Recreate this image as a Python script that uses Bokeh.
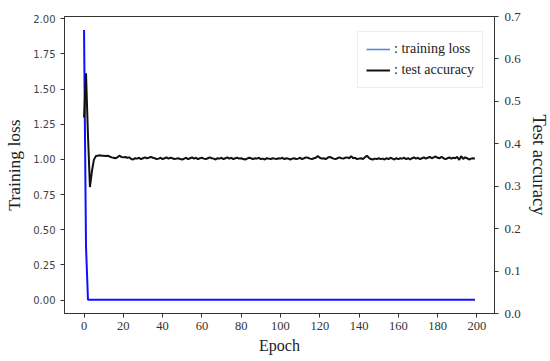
from bokeh.plotting import figure
from bokeh.models import Range1d, LinearAxis, FixedTicker, Legend, LegendItem, NumeralTickFormatter, ColumnDataSource
from bokeh.embed import file_html
from bokeh.resources import INLINE

epochs = list(range(200))

training_loss = [
    1.92, 0.38, 0.002, 0.001, 0.001, 0.001, 0.001, 0.001, 0.001, 0.001,
    0.001, 0.001, 0.001, 0.001, 0.001, 0.001, 0.001, 0.001, 0.001, 0.001,
    0.001, 0.001, 0.001, 0.001, 0.001, 0.001, 0.001, 0.001, 0.001, 0.001,
    0.001, 0.001, 0.001, 0.001, 0.001, 0.001, 0.001, 0.001, 0.001, 0.001,
    0.001, 0.001, 0.001, 0.001, 0.001, 0.001, 0.001, 0.001, 0.001, 0.001,
    0.001, 0.001, 0.001, 0.001, 0.001, 0.001, 0.001, 0.001, 0.001, 0.001,
    0.001, 0.001, 0.001, 0.001, 0.001, 0.001, 0.001, 0.001, 0.001, 0.001,
    0.001, 0.001, 0.001, 0.001, 0.001, 0.001, 0.001, 0.001, 0.001, 0.001,
    0.001, 0.001, 0.001, 0.001, 0.001, 0.001, 0.001, 0.001, 0.001, 0.001,
    0.001, 0.001, 0.001, 0.001, 0.001, 0.001, 0.001, 0.001, 0.001, 0.001,
    0.001, 0.001, 0.001, 0.001, 0.001, 0.001, 0.001, 0.001, 0.001, 0.001,
    0.001, 0.001, 0.001, 0.001, 0.001, 0.001, 0.001, 0.001, 0.001, 0.001,
    0.001, 0.001, 0.001, 0.001, 0.001, 0.001, 0.001, 0.001, 0.001, 0.001,
    0.001, 0.001, 0.001, 0.001, 0.001, 0.001, 0.001, 0.001, 0.001, 0.001,
    0.001, 0.001, 0.001, 0.001, 0.001, 0.001, 0.001, 0.001, 0.001, 0.001,
    0.001, 0.001, 0.001, 0.001, 0.001, 0.001, 0.001, 0.001, 0.001, 0.001,
    0.001, 0.001, 0.001, 0.001, 0.001, 0.001, 0.001, 0.001, 0.001, 0.001,
    0.001, 0.001, 0.001, 0.001, 0.001, 0.001, 0.001, 0.001, 0.001, 0.001,
    0.001, 0.001, 0.001, 0.001, 0.001, 0.001, 0.001, 0.001, 0.001, 0.001,
    0.001, 0.001, 0.001, 0.001, 0.001, 0.001, 0.001, 0.001, 0.001, 0.001,
]

test_accuracy = [
    0.462, 0.566, 0.420, 0.298, 0.335, 0.362, 0.371, 0.372, 0.373, 0.372,
    0.372, 0.371, 0.372, 0.370, 0.368, 0.367, 0.366, 0.368, 0.372, 0.369,
    0.368, 0.369, 0.367, 0.368, 0.364, 0.363, 0.366, 0.365, 0.367, 0.364,
    0.366, 0.368, 0.366, 0.367, 0.369, 0.367, 0.366, 0.364, 0.365, 0.367,
    0.364, 0.366, 0.368, 0.365, 0.367, 0.366, 0.364, 0.365, 0.366, 0.364,
    0.363, 0.365, 0.367, 0.364, 0.366, 0.368, 0.365, 0.367, 0.364, 0.366,
    0.367, 0.365, 0.364, 0.366, 0.368, 0.366, 0.365, 0.363, 0.366, 0.365,
    0.367, 0.364, 0.366, 0.368, 0.365, 0.367, 0.364, 0.366, 0.367, 0.365,
    0.366, 0.364, 0.363, 0.365, 0.367, 0.366, 0.364, 0.366, 0.365, 0.367,
    0.364, 0.365, 0.363, 0.366, 0.365, 0.364, 0.366, 0.365, 0.364, 0.366,
    0.365, 0.367, 0.364, 0.366, 0.365, 0.363, 0.365, 0.366, 0.364, 0.365,
    0.367, 0.364, 0.366, 0.368, 0.367, 0.365, 0.364, 0.366, 0.367, 0.371,
    0.367, 0.365, 0.366, 0.364, 0.367, 0.369, 0.367, 0.365, 0.364, 0.366,
    0.368, 0.366, 0.365, 0.367, 0.368, 0.366, 0.371, 0.366, 0.367, 0.364,
    0.365, 0.366, 0.364, 0.368, 0.372, 0.367, 0.364, 0.363, 0.365, 0.364,
    0.366, 0.364, 0.365, 0.363, 0.366, 0.364, 0.367, 0.365, 0.363, 0.366,
    0.364, 0.366, 0.365, 0.367, 0.364, 0.366, 0.363, 0.366, 0.368, 0.365,
    0.367, 0.364, 0.366, 0.368, 0.365, 0.367, 0.369, 0.366, 0.368, 0.370,
    0.367, 0.366, 0.369, 0.366, 0.364, 0.366, 0.368, 0.365, 0.367, 0.366,
    0.369, 0.362, 0.371, 0.364, 0.368, 0.366, 0.363, 0.365, 0.366, 0.365,
]

x_ticks = [0, 20, 40, 60, 80, 100, 120, 140, 160, 180, 200]
loss_ticks = [0.0, 0.25, 0.5, 0.75, 1.0, 1.25, 1.5, 1.75, 2.0]
acc_ticks = [0.0, 0.1, 0.2, 0.3, 0.4, 0.5, 0.6, 0.7]

SERIF = "Liberation Serif"

p = figure(frame_width=430, frame_height=297, output_backend="svg", toolbar_location=None,
           x_range=Range1d(-9.95, 208.95), y_range=Range1d(-0.096, 2.016),
           min_border_left=64, min_border_top=16, min_border_right=56, min_border_bottom=48)
p.extra_y_ranges = {"acc": Range1d(0.0, 0.7)}

p.xgrid.visible = False
p.ygrid.visible = False
p.outline_line_color = "#333333"
p.outline_line_width = 1
p.background_fill_color = "white"
p.border_fill_color = "white"

src = ColumnDataSource(dict(epoch=epochs, loss=training_loss, acc=test_accuracy))
p.line("epoch", "loss", source=src, line_color="#1010ff", line_width=2)
p.line("epoch", "acc", source=src, y_range_name="acc", line_color="#111111", line_width=2)

# legend proxies (drawn outside the visible range)
lg1 = p.line([-1000, -999], [-1000, -1000], line_color="#5b8ad6", line_width=1.6)
lg2 = p.line([-1000, -999], [-1000, -1000], line_color="#111111", line_width=2)

xa = p.xaxis[0]
xa.ticker = FixedTicker(ticks=x_ticks)
xa.axis_label = "Epoch"
ya = p.yaxis[0]
ya.ticker = FixedTicker(ticks=loss_ticks)
ya.formatter = NumeralTickFormatter(format="0.00")
ya.axis_label = "Training loss"

ra = LinearAxis(y_range_name="acc", ticker=FixedTicker(ticks=acc_ticks),
                formatter=NumeralTickFormatter(format="0.0"), axis_label="Test accuracy")
p.add_layout(ra, "right")

for ax in [xa, ya, ra]:
    ax.axis_line_color = "#333333"
    ax.major_tick_line_color = "#333333"
    ax.major_tick_out = 4
    ax.major_tick_in = 0
    ax.minor_tick_line_color = None
    ax.axis_label_text_font = SERIF
    ax.axis_label_text_font_style = "normal"
    ax.axis_label_text_color = "#222222"
    ax.axis_label_text_font_size = "17px"

ya.major_label_text_font = "DejaVu Sans"
ya.major_label_text_font_size = "10px"
ya.major_label_text_color = "#444444"
ya.major_label_standoff = 5
ya.axis_label_standoff = 6
ya.axis_label_text_font_size = "17.5px"

xa.major_label_text_font = SERIF
xa.major_label_text_font_size = "12.5px"
xa.major_label_text_color = "#333333"
xa.major_label_standoff = 4
xa.axis_label_standoff = 4
xa.axis_label_text_font_size = "16px"

ra.major_label_text_font = SERIF
ra.major_label_text_font_size = "13px"
ra.major_label_text_color = "#333333"
ra.major_label_standoff = 6
ra.axis_label_standoff = 5
ra.axis_label_text_font_size = "18.5px"

legend = Legend(items=[LegendItem(label=": training loss", renderers=[lg1]),
                       LegendItem(label=": test accuracy", renderers=[lg2])],
                location=(293, 225))
legend.label_text_font = SERIF
legend.label_text_font_size = "14px"
legend.label_text_color = "#222222"
legend.border_line_color = "#dddddd"
legend.border_line_width = 1
legend.background_fill_color = "white"
legend.background_fill_alpha = 1.0
legend.glyph_width = 24
legend.glyph_height = 18
legend.label_height = 18
legend.label_standoff = 4
legend.spacing = 3
legend.padding = 8
legend.margin = 0
p.add_layout(legend)

open("out.html", "w").write(file_html(p, INLINE))
